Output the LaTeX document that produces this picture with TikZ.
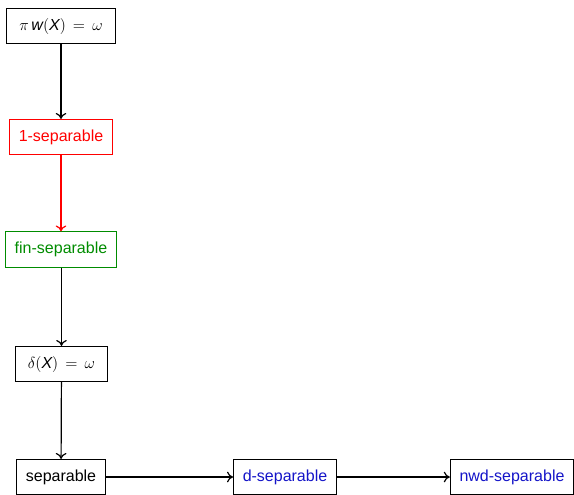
\documentclass[tikz,border=0pt]{standalone}
\usepackage{fontspec}
\setmainfont{Liberation Sans}
\usetikzlibrary{arrows.meta}
\definecolor{sepred}{RGB}{255,0,0}
\definecolor{sepgreen}{RGB}{0,140,0}
\definecolor{sepblue}{RGB}{20,20,200}
\begin{document}
\begin{tikzpicture}[x=0.75pt,y=0.75pt,
  box/.style={draw,line width=0.6pt,minimum height=26.5pt,inner xsep=7pt,font=\fontsize{12}{14}\selectfont},
  mathbox/.style={box,inner xsep=9.5pt},
  imp/.style={-{To[length=4.5pt,width=8pt]},line width=0.9pt}]
\useasboundingbox (0,0) rectangle (574,494);
\node[mathbox] (pw) at (61,468) {$\pi\,\textit{w}(\textit{X})\,=\,\omega$};
\node[box,draw=sepred,text=sepred] (one) at (61,357) {1-separable};
\node[box,draw=sepgreen,text=sepgreen] (fin) at (61,244.5) {fin-separable};
\node[mathbox] (delta) at (61.5,130) {$\delta(\textit{X})\,=\,\omega$};
\node[box] (sep) at (61,17) {separable};
\node[box,text=sepblue] (dsep) at (285,17) {d-separable};
\node[box,text=sepblue] (nwd) at (512,17) {nwd-separable};
\draw[imp] (pw) -- (one);
\draw[imp,draw=sepred] (one) -- (fin);
\draw[imp] (fin.south -| delta.north) -- (delta);
\draw[imp] (delta) -- (sep);
\draw[imp] (sep) -- (dsep);
\draw[imp] (dsep) -- (nwd);
\end{tikzpicture}
\end{document}
